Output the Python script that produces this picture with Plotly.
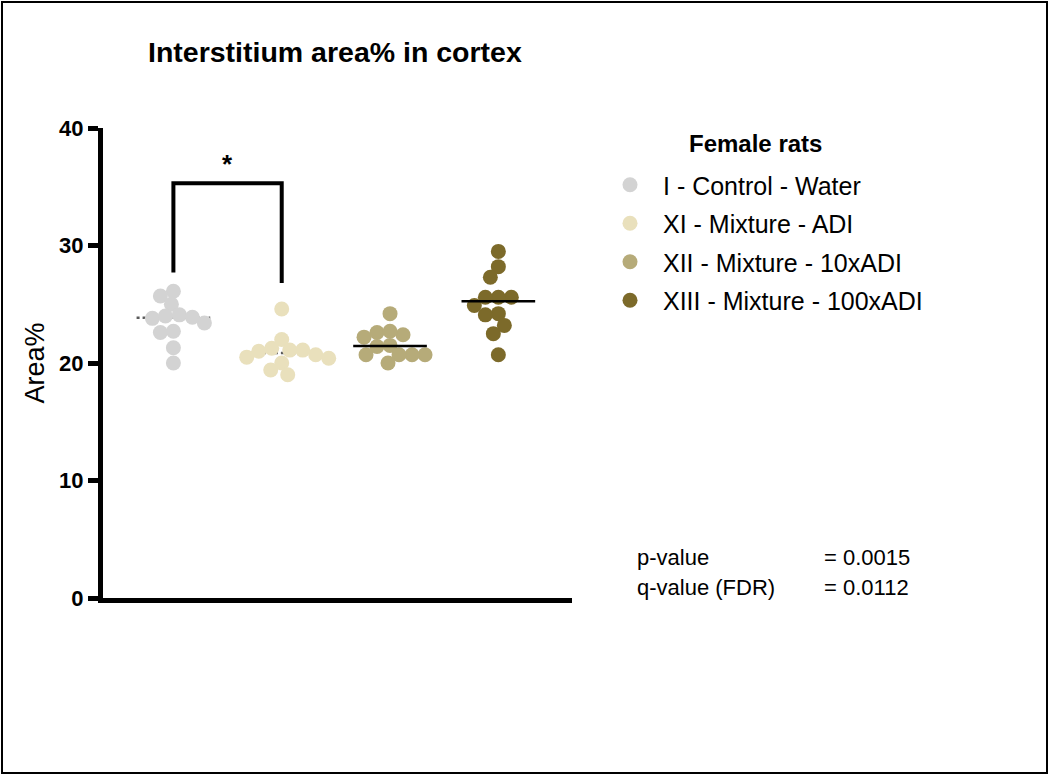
import numpy as np
import plotly.graph_objects as go

# values (Area%)
groups = ["I - Control - Water", "XI - Mixture - ADI",
          "XII - Mixture - 10xADI", "XIII - Mixture - 100xADI"]
control_water = [26.1, 25.7, 25.0, 24.1, 23.8, 23.4, 23.9, 24.0, 22.7, 22.6, 21.3, 20.0]
mixture_adi = [24.6, 22.0, 21.1, 21.25, 20.7, 21.0, 21.1, 20.4, 20.0, 20.5, 19.0, 19.4]
mixture_10adi = [24.2, 22.6, 22.2, 22.4, 22.7, 21.5, 21.4, 20.7, 20.7, 20.7, 20.7, 20.0]
mixture_100adi = [29.5, 28.2, 27.3, 25.6, 25.6, 25.6, 24.9, 24.2, 24.1, 23.2, 22.5, 20.7]
series = [control_water, mixture_adi, mixture_10adi, mixture_100adi]
colors = ["rgb(211,211,211)", "rgb(233,224,188)", "rgb(182,171,121)", "rgb(124,106,42)"]

y_ticks = [0, 10, 20, 30, 40]
bracket = [27.7, 35.3, 26.8]   # left foot, top, right foot
p_value = "0.0015"
q_value = "0.0112"

FONT = "Liberation Sans, Arial, sans-serif"

# plot area in pixels
W, H = 1050, 776
L, R, T, B = 103, 478, 128, 178
PW, PH = W - L - R, H - T - B
xr = [-0.65, 3.68]
yr = [0, 40]
px_x = PW / (xr[1] - xr[0])
px_y = PH / (yr[1] - yr[0])
D = 15  # marker diameter


def swarm(vals, d=13):
    # simple beeswarm: closest free offset to the centre (small overlap allowed)
    order = np.argsort(vals)[::-1]
    placed = []
    offs = np.zeros(len(vals))
    cands = sorted(np.arange(-60, 61, 1.0), key=abs)
    for i in order:
        yp = vals[i] * px_y
        for c in cands:
            if all((c - ox) ** 2 + (yp - oy) ** 2 >= d ** 2 for ox, oy in placed):
                offs[i] = c
                placed.append((c, yp))
                break
    return offs / px_x


def px(x, y):
    # screen pixel -> paper coords
    return (x - L) / PW, (H - B - y) / PH


fig = go.Figure()
for k, (name, vals, col) in enumerate(zip(groups, series, colors)):
    vals = np.array(vals)
    fig.add_trace(go.Scatter(
        x=k + swarm(vals), y=vals, mode="markers", name=name,
        legendgroup=name,
        marker=dict(size=D, color=col, line=dict(width=0)),
        hoverinfo="y",
    ))
    med = float(np.median(vals))
    fig.add_shape(type="line", x0=k - 0.34, x1=k + 0.34, y0=med, y1=med,
                  line=dict(color="black" if k > 1 else "rgb(90,90,90)",
                            width=2.5, dash="solid" if k > 1 else "dot"),
                  layer="above" if k > 1 else "below")

# significance bracket between group 1 and 2
fig.add_shape(type="path",
              path=f"M 0,{bracket[0]} L 0,{bracket[1]} L 1,{bracket[1]} L 1,{bracket[2]}",
              line=dict(color="black", width=4))
fig.add_annotation(x=0.5, y=bracket[1] + 1.6, text="<b>*</b>", showarrow=False,
                   font=dict(family=FONT, size=26, color="black"))

# outer frame
x0, y0 = px(2, 773)
x1, y1 = px(1047, 2)
fig.add_shape(type="rect", xref="paper", yref="paper", x0=x0, x1=x1, y0=y0, y1=y1,
              line=dict(color="black", width=2))

# legend heading
hx, hy = px(755, 143)
fig.add_annotation(xref="paper", yref="paper", x=hx, y=hy, text="<b>Female rats</b>",
                   showarrow=False, xanchor="center", yanchor="middle",
                   font=dict(family=FONT, size=24, color="black"))

# statistics text
for txt, ypx in [("p-value", 557), ("q-value (FDR)", 587)]:
    ax, ay = px(635, ypx)
    fig.add_annotation(xref="paper", yref="paper", x=ax, y=ay, text=txt, showarrow=False,
                       xanchor="left", yanchor="middle",
                       font=dict(family=FONT, size=22, color="black"))
for txt, ypx in [("= " + p_value, 557), ("= " + q_value, 587)]:
    ax, ay = px(822, ypx)
    fig.add_annotation(xref="paper", yref="paper", x=ax, y=ay, text=txt, showarrow=False,
                       xanchor="left", yanchor="middle",
                       font=dict(family=FONT, size=22, color="black"))

lx, ly = px(597, 162)
tx, _ = px(148, 0)
fig.update_layout(
    width=W, height=H,
    margin=dict(l=L, r=R, t=T, b=B, autoexpand=False),
    paper_bgcolor="white", plot_bgcolor="white",
    font=dict(family=FONT, color="black"),
    title=dict(text="<b>Interstitium area% in cortex</b>", x=tx,
               xref="paper", xanchor="left", y=1 - 52 / H, yref="container",
               yanchor="middle", font=dict(family=FONT, size=28.5, color="black")),
    xaxis=dict(range=xr, showline=True, linecolor="black", linewidth=5,
               showticklabels=False, ticks="", showgrid=False, zeroline=False),
    yaxis=dict(range=yr, showline=True, linecolor="black", linewidth=5,
               tickvals=y_ticks, ticks="outside", ticklen=10, tickwidth=5,
               tickcolor="black", tickfont=dict(family=FONT, size=22, color="black",
                                                weight="bold"),
               showgrid=False, zeroline=False,
               title=dict(text="Area%", font=dict(family=FONT, size=27, color="black"),
                          standoff=8)),
    showlegend=True,
    legend=dict(x=lx, y=ly, xanchor="left", yanchor="top", bgcolor="rgba(0,0,0,0)",
                font=dict(family=FONT, size=25, color="black"),
                itemwidth=56, tracegroupgap=3, itemclick=False),
)

fig.write_html("out.html", config={"displayModeBar": False},
               post_script="document.body.style.margin='0';")
